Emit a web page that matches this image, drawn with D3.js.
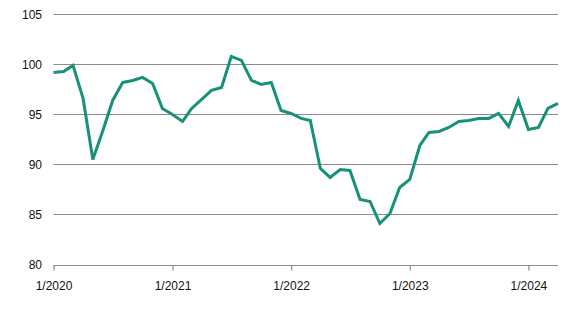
<!DOCTYPE html>
<html>
<head>
<meta charset="utf-8">
<script src="https://cdn.jsdelivr.net/npm/d3@7"></script>
<style>
  body { margin: 0; background: #fff; }
  svg { display: block; font-family: "Liberation Sans", Arial, sans-serif; }
</style>
</head>
<body>
<svg id="chart" width="580" height="326"></svg>
<script>
// monthly index, 1/2020 .. 4/2024
const startMonth = new Date(2020, 0, 1)
const values = [
  99.2, 99.3, 99.9, 96.6, 90.5, 93.4, 96.4, 98.2, 98.4, 98.7, 98.1, 95.6,
  95.0, 94.3, 95.6, 96.5, 97.4, 97.7, 100.8, 100.4, 98.4, 98.0, 98.2, 95.4,
  95.1, 94.6, 94.4, 89.6, 88.7, 89.5, 89.4, 86.5, 86.3, 84.1, 85.1, 87.7,
  88.5, 91.9, 93.2, 93.3, 93.7, 94.3, 94.4, 94.6, 94.6, 95.1, 93.8, 96.4,
  93.5, 93.7, 95.6, 96.1
]
const yTicks = [80, 85, 90, 95, 100, 105]

const data = values.map((v, i) => ({ date: d3.timeMonth.offset(startMonth, i), value: v }))

const svg = d3.select("#chart")
const mLeft = 53.5, mRight = 558, mTop = 14.4, mBottom = 264.5

const x = d3.scaleTime()
  .domain(d3.extent(data, d => d.date))
  .range([mLeft, mRight])

const y = d3.scaleLinear()
  .domain([80, 105])
  .range([mBottom, mTop])

// grid lines + y labels
const grid = svg.append("g")
grid.selectAll("line")
  .data(yTicks)
  .join("line")
  .attr("x1", mLeft)
  .attr("x2", mRight)
  .attr("y1", d => Math.round(y(d)) + 0.5)
  .attr("y2", d => Math.round(y(d)) + 0.5)
  .attr("stroke", "#8c8c8c")
  .attr("stroke-width", 1.2)

grid.selectAll("text")
  .data(yTicks)
  .join("text")
  .attr("x", 42)
  .attr("y", d => y(d))
  .attr("dy", "0.36em")
  .attr("text-anchor", "end")
  .attr("font-size", 12)
  .attr("fill", "#111")
  .text(d => d)

// x axis ticks
const xAxis = d3.axisBottom(x)
  .ticks(d3.timeYear.every(1))
  .tickFormat(d3.timeFormat("1/%Y"))
  .tickSize(5)
  .tickPadding(11)

const gx = svg.append("g")
  .attr("transform", `translate(0,${Math.round(y(80)) + 0.5})`)
  .call(xAxis)
gx.select(".domain").remove()
gx.selectAll(".tick line").attr("stroke", "#8c8c8c").attr("stroke-width", 1.2)
gx.selectAll(".tick text")
  .attr("font-size", 12)
  .attr("font-family", "Liberation Sans, Arial, sans-serif")
  .attr("fill", "#111")

// the series
const line = d3.line()
  .x(d => x(d.date))
  .y(d => y(d.value))

svg.append("path")
  .datum(data)
  .attr("fill", "none")
  .attr("stroke", "#17917a")
  .attr("stroke-width", 3)
  .attr("stroke-linejoin", "miter")
  .attr("d", line)
</script>
</body>
</html>
